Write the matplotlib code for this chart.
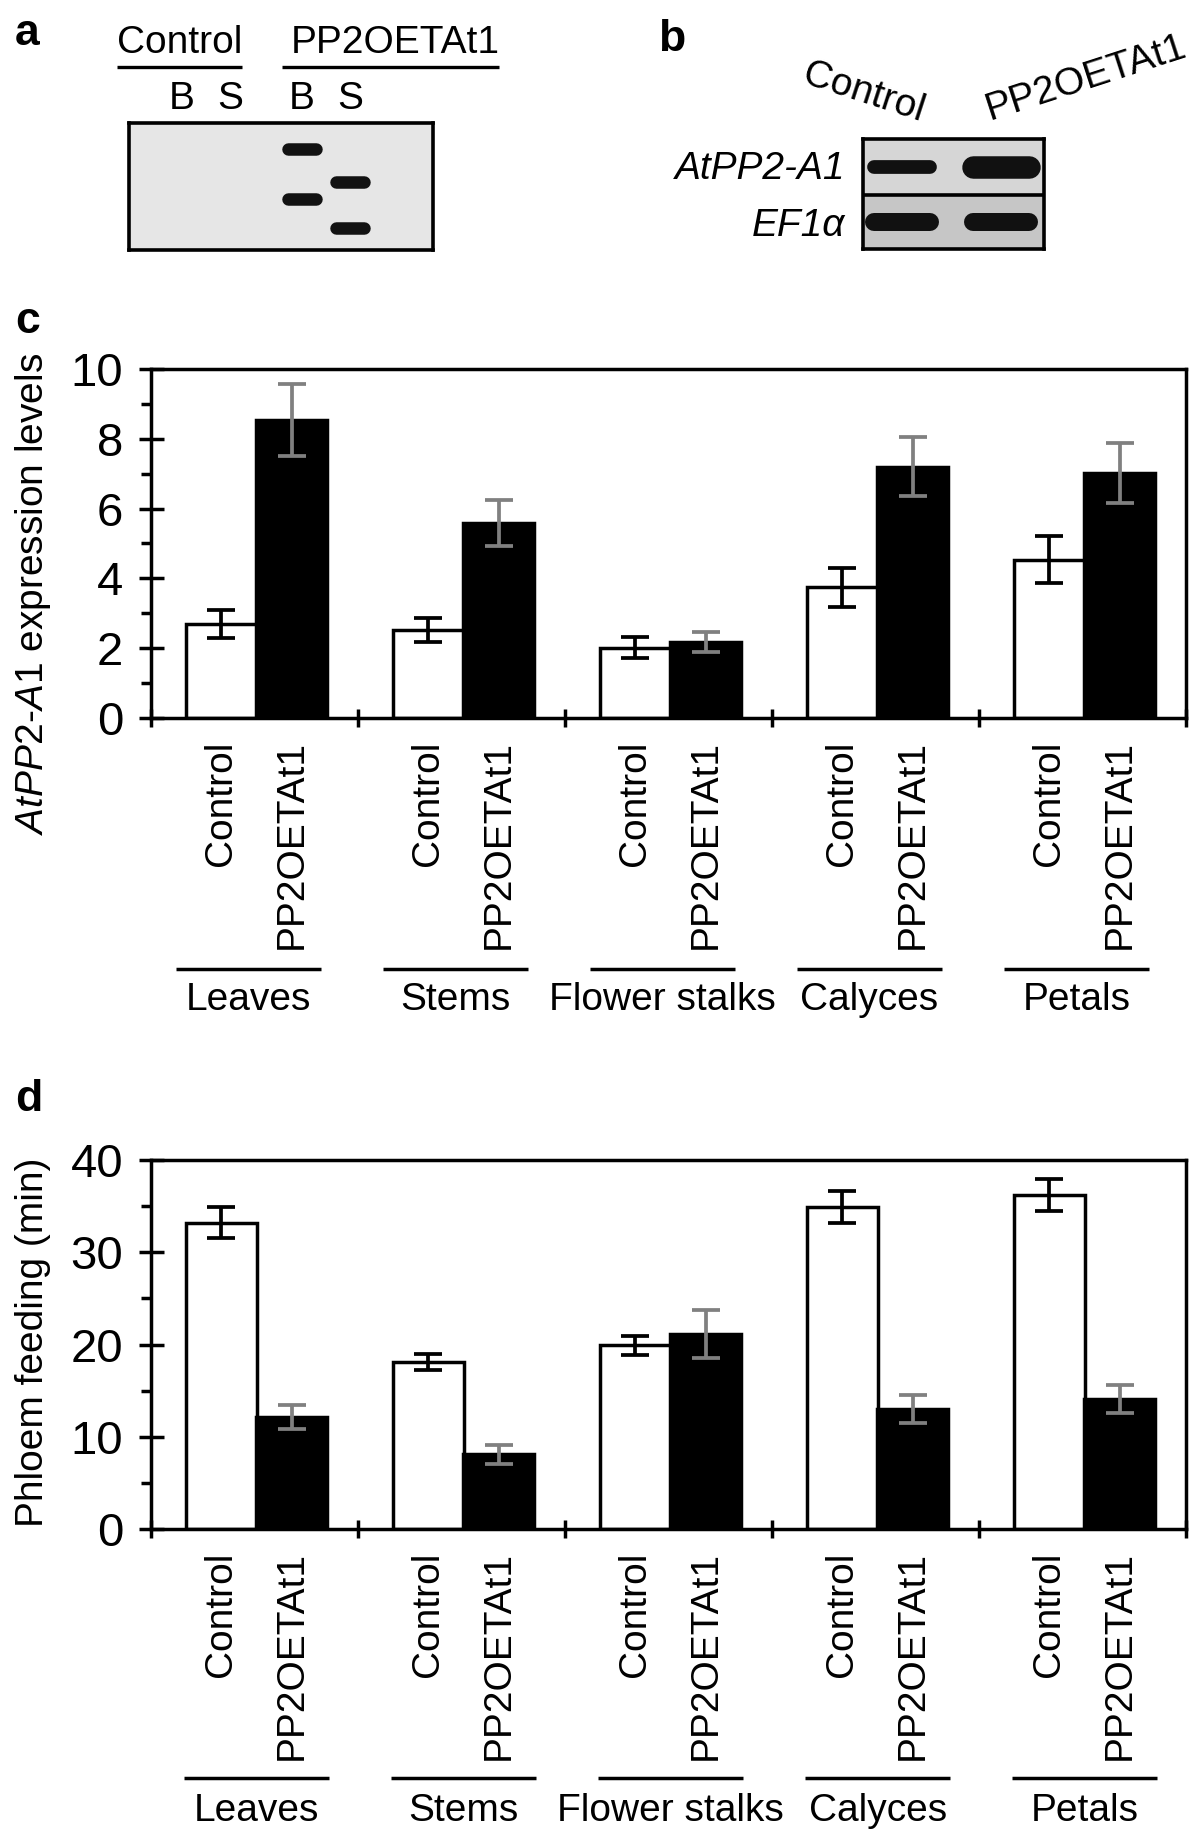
import numpy as np
import matplotlib
matplotlib.use('Agg')
import matplotlib.pyplot as plt
import matplotlib.transforms as mtransforms
from matplotlib.ticker import MultipleLocator

plt.rcParams['font.family'] = ['Liberation Sans', 'DejaVu Sans']
plt.rcParams['mathtext.fontset'] = 'custom'
plt.rcParams['mathtext.rm'] = 'Liberation Sans'
plt.rcParams['mathtext.it'] = 'Liberation Sans:italic'

# ---- data ----
tissues = ['Leaves', 'Stems', 'Flower stalks', 'Calyces', 'Petals']
genotypes = ['Control', 'PP2OETAt1']

# c: AtPP2-A1 expression levels
expr_ctrl = [2.7, 2.52, 2.02, 3.75, 4.54]
expr_ctrl_err = [0.4, 0.35, 0.29, 0.56, 0.68]
expr_oe = [8.55, 5.58, 2.17, 7.2, 7.02]
expr_oe_err = [1.03, 0.66, 0.29, 0.85, 0.85]

# d: phloem feeding (min)
feed_ctrl = [33.2, 18.1, 19.9, 34.9, 36.2]
feed_ctrl_err = [1.7, 0.9, 1.05, 1.7, 1.7]
feed_oe = [12.1, 8.1, 21.1, 13.0, 14.1]
feed_oe_err = [1.3, 1.05, 2.6, 1.5, 1.5]

# a: gel lanes and bands (lane index, relative migration)
lanes_a = ['B', 'S', 'B', 'S']
lane_pos_a = [0, 1, 2.5, 3.5]
band_lane_a = [2, 2, 3, 3]
band_mig_a = [0.2, 0.6, 0.46, 0.83]

# b: western blot, band strength per lane
blot_rows = ['AtPP2-A1', 'EF1α']
band_atpp2 = [0.55, 0.9]
band_ef1a = [0.72, 0.72]

W, H = 1200, 1842
fig = plt.figure(figsize=(W / 100, H / 100), dpi=100)


def px_rect(x0, y0, x1, y1):
    return [x0 / W, 1 - y1 / H, (x1 - x0) / W, (y1 - y0) / H]


# overlay in pixel coordinates for the free text
ov = fig.add_axes([0, 0, 1, 1])
ov.set_xlim(0, W)
ov.set_ylim(H, 0)
ov.axis('off')

for letter, x, y in [('a', 15, 45), ('b', 658, 51), ('c', 15, 333), ('d', 15, 1111)]:
    ov.text(x, y, letter, fontsize=32, fontweight='bold', ha='left', va='baseline')

# ---- panel a ----
ov.text(180, 53, 'Control', fontsize=28, ha='center', va='baseline')
ov.text(395, 53, 'PP2OETAt1', fontsize=28, ha='center', va='baseline')
ov.plot([117, 242], [67, 67], color='black', lw=2.4, solid_capstyle='butt')
ov.plot([282, 499], [67, 67], color='black', lw=2.4, solid_capstyle='butt')

gel = fig.add_axes(px_rect(129.4, 123.5, 432.5, 250))
gel.set_xlim(-1.096, 5.219)
gel.set_ylim(1, 0)
gel.set_facecolor('#e6e6e6')
gel.set_xticks([])
gel.set_yticks([])
for s in gel.spines.values():
    s.set_linewidth(2.6)
for ln, mig in zip(band_lane_a, band_mig_a):
    xl = lane_pos_a[ln]
    gel.plot([xl - 0.3, xl + 0.3], [mig, mig], color='#121212', lw=9,
             solid_capstyle='round')
blend_a = mtransforms.blended_transform_factory(gel.transData, ov.transData)
for xl, lab in zip(lane_pos_a, lanes_a):
    ov.text(xl, 109, lab, fontsize=28, ha='center', va='baseline', transform=blend_a)

# ---- panel b ----
ov.text(864, 93, 'Control', fontsize=28, ha='center', va='center', rotation=-18)
ov.text(1086, 78, 'PP2OETAt1', fontsize=28, ha='center', va='center', rotation=18)
ov.text(845, 179, blot_rows[0], fontsize=28, style='italic', ha='right', va='baseline')
ov.text(845, 236, blot_rows[1], fontsize=28, style='italic', ha='right', va='baseline')

blot = fig.add_axes(px_rect(863, 139, 1044, 249))
blot.set_xlim(-0.394, 1.434)
blot.set_ylim(1.49, -0.51)
blot.set_xticks([])
blot.set_yticks([])
blot.axhspan(-0.51, 0.5, color='#d6d6d6', lw=0)
blot.axhspan(0.5, 1.49, color='#c6c6c6', lw=0)
blot.axhline(0.5, color='black', lw=2.6)
for s in blot.spines.values():
    s.set_linewidth(2.6)
for row, strength in enumerate([band_atpp2, band_ef1a]):
    for lane, st in enumerate(strength):
        blot.plot([lane - 0.28, lane + 0.28], [row, row], color='#111111',
                  lw=18 * st, solid_capstyle='round')


# ---- bar panels ----
def bar_panel(box, ctrl, ctrl_err, oe, oe_err, ymax, ystep, ylabel, ylab_y,
              line_y, name_y, grp_lo, grp_hi):
    ax = fig.add_axes(px_rect(*box))
    x = np.arange(len(tissues))
    xc = x + 0.34
    xo = x + 0.68
    ax.bar(xc, ctrl, width=0.345, color='white', edgecolor='black', linewidth=2.5, zorder=2)
    ax.bar(xo, oe, width=0.345, color='black', edgecolor='black', linewidth=2.5, zorder=2)
    ax.errorbar(xc, ctrl, yerr=ctrl_err, fmt='none', ecolor='black',
                elinewidth=2.7, capsize=10, capthick=2.7, zorder=3)
    ax.errorbar(xo, oe, yerr=oe_err, fmt='none', ecolor='#808080',
                elinewidth=2.7, capsize=10, capthick=2.7, zorder=3)
    ax.set_xlim(0, len(tissues))
    ax.set_ylim(0, ymax)
    for s in ax.spines.values():
        s.set_linewidth(2.5)

    ax.set_xticks(np.arange(len(tissues) + 1))
    ax.set_xticklabels([])
    ax.set_xticks(np.concatenate([xc, xo]),
                  [genotypes[0]] * len(tissues) + [genotypes[1]] * len(tissues),
                  minor=True)
    ax.tick_params(axis='x', which='major', direction='inout', length=13, width=2.5)
    ax.tick_params(axis='x', which='minor', length=0, pad=16, labelsize=28,
                   labelrotation=90)

    ax.yaxis.set_major_locator(MultipleLocator(ystep))
    ax.yaxis.set_minor_locator(MultipleLocator(ystep / 2))
    ax.tick_params(axis='y', which='major', direction='inout', length=18, width=2.5,
                   labelsize=34, pad=11)
    ax.tick_params(axis='y', which='minor', direction='out', length=7, width=2.5)

    blend = mtransforms.blended_transform_factory(ax.transData, ov.transData)
    for i, name in enumerate(tissues):
        ax.plot([i + grp_lo, i + grp_hi], [line_y, line_y], color='black', lw=2.5,
                transform=blend, clip_on=False, solid_capstyle='butt')
        ax.text(i + (grp_lo + grp_hi) / 2, name_y, name, fontsize=28, ha='center',
                va='baseline', transform=blend)

    ov.text(33, ylab_y, ylabel, fontsize=28, rotation=90, ha='center', va='center')
    return ax


bar_panel((151, 369, 1186, 718), expr_ctrl, expr_ctrl_err, expr_oe, expr_oe_err,
          10, 2, r'$\mathit{AtPP2}$-$\mathit{A1}$ expression levels', 594,
          969, 1010, 0.12, 0.82)
bar_panel((151, 1160, 1186, 1529), feed_ctrl, feed_ctrl_err, feed_oe, feed_oe_err,
          40, 10, 'Phloem feeding (min)', 1342,
          1778, 1821, 0.16, 0.86)

fig.savefig('out.png', dpi=100)
